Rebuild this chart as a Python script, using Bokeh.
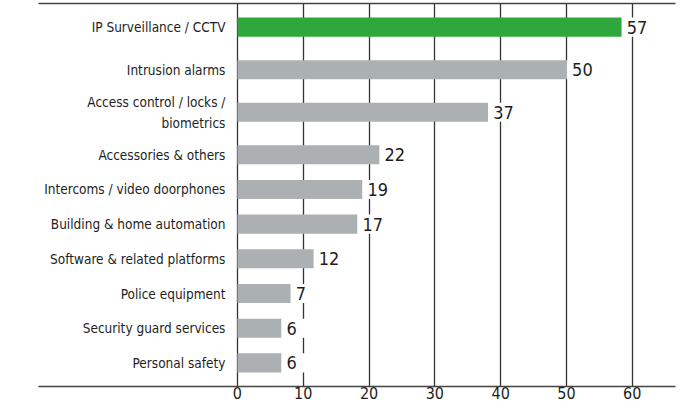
from bokeh.plotting import figure
from bokeh.models import FactorRange, Range1d, FixedTicker, LinearAxis, ColumnDataSource
from bokeh.core.properties import value
from bokeh.embed import file_html
from bokeh.resources import INLINE

# ---- data ----
categories = [
    "IP Surveillance / CCTV",
    "Intrusion alarms",
    "Access control / locks /\nbiometrics",
    "Accessories & others",
    "Intercoms / video doorphones",
    "Building & home automation",
    "Software & related platforms",
    "Police equipment",
    "Security guard services",
    "Personal safety",
]
bar_values = [58.4, 50.1, 38.1, 21.6, 19.0, 18.25, 11.6, 8.1, 6.7, 6.7]
value_labels = ["57", "50", "37", "22", "19", "17", "12", "7", "6", "6"]
x_ticks = [0, 10, 20, 30, 40, 50, 60]
highlight = "IP Surveillance / CCTV"

# ---- styling ----
FONT = "DejaVu Sans Condensed, Liberation Sans Narrow, sans-serif"
GREEN = "#2EA83C"
GRAY = "#ABB0B2"
TEXT = "#1e1e1e"
LINE = "#444444"

# layout grouping: first three rows are spaced a bit further apart
groups = ["a", "b", "c"] + ["d"] * (len(categories) - 3)
factors = [(g, c) for g, c in zip(groups, categories)]

colors = [GREEN if c == highlight else GRAY for c in categories]
box_right = [v + 4 for v in bar_values]

src = ColumnDataSource(data=dict(
    y=factors, v=bar_values, lab=value_labels, cat=categories,
    color=colors, box=box_right,
))

y_range = FactorRange(factors=factors[::-1], group_padding=0.227,
                      range_padding=0.181, range_padding_units="absolute")

p = figure(width=676, height=403, x_range=Range1d(-30.23, 66.57), y_range=y_range,
           output_backend="svg", toolbar_location=None,
           min_border_left=38, min_border_right=1, min_border_top=3, min_border_bottom=17)

p.outline_line_color = None
p.background_fill_color = "white"
p.yaxis.visible = False
p.ygrid.visible = False

ax = p.xaxis[0]
ax.ticker = FixedTicker(ticks=x_ticks)
ax.axis_line_color = LINE
ax.axis_line_width = 1.5
ax.major_tick_line_color = None
ax.minor_tick_line_color = None
ax.major_tick_out = 0
ax.major_tick_in = 0
ax.major_label_standoff = 0
ax.major_label_text_font = FONT
ax.major_label_text_font_size = "16px"
ax.major_label_text_color = TEXT

top = LinearAxis(ticker=FixedTicker(ticks=[]), major_tick_out=0, major_tick_in=0,
                 major_label_standoff=0, axis_line_color=LINE, axis_line_width=1.5,
                 major_tick_line_color=None, minor_tick_line_color=None)
p.add_layout(top, "above")

p.xgrid.ticker = FixedTicker(ticks=x_ticks)
p.xgrid.grid_line_color = "#333333"
p.xgrid.grid_line_width = 1.3

p.hbar(y="y", left=0, right="v", height=0.55, fill_color="color", line_color=None, source=src)
p.hbar(y="y", left="v", right="box", height=0.55, fill_color="white", line_color=None, source=src)

p.text(x="v", y="y", text="lab", x_offset=5, text_align="left", text_baseline="middle",
       text_font=value(FONT), text_font_size="18px", text_color=TEXT, source=src)
p.text(x=0, y="y", text="cat", x_offset=-12, text_align="right", text_baseline="middle",
       text_font=value(FONT), text_font_size="13.5px", text_color=TEXT, text_line_height=1.3,
       source=src)

open("out.html", "w").write(file_html(p, INLINE))
